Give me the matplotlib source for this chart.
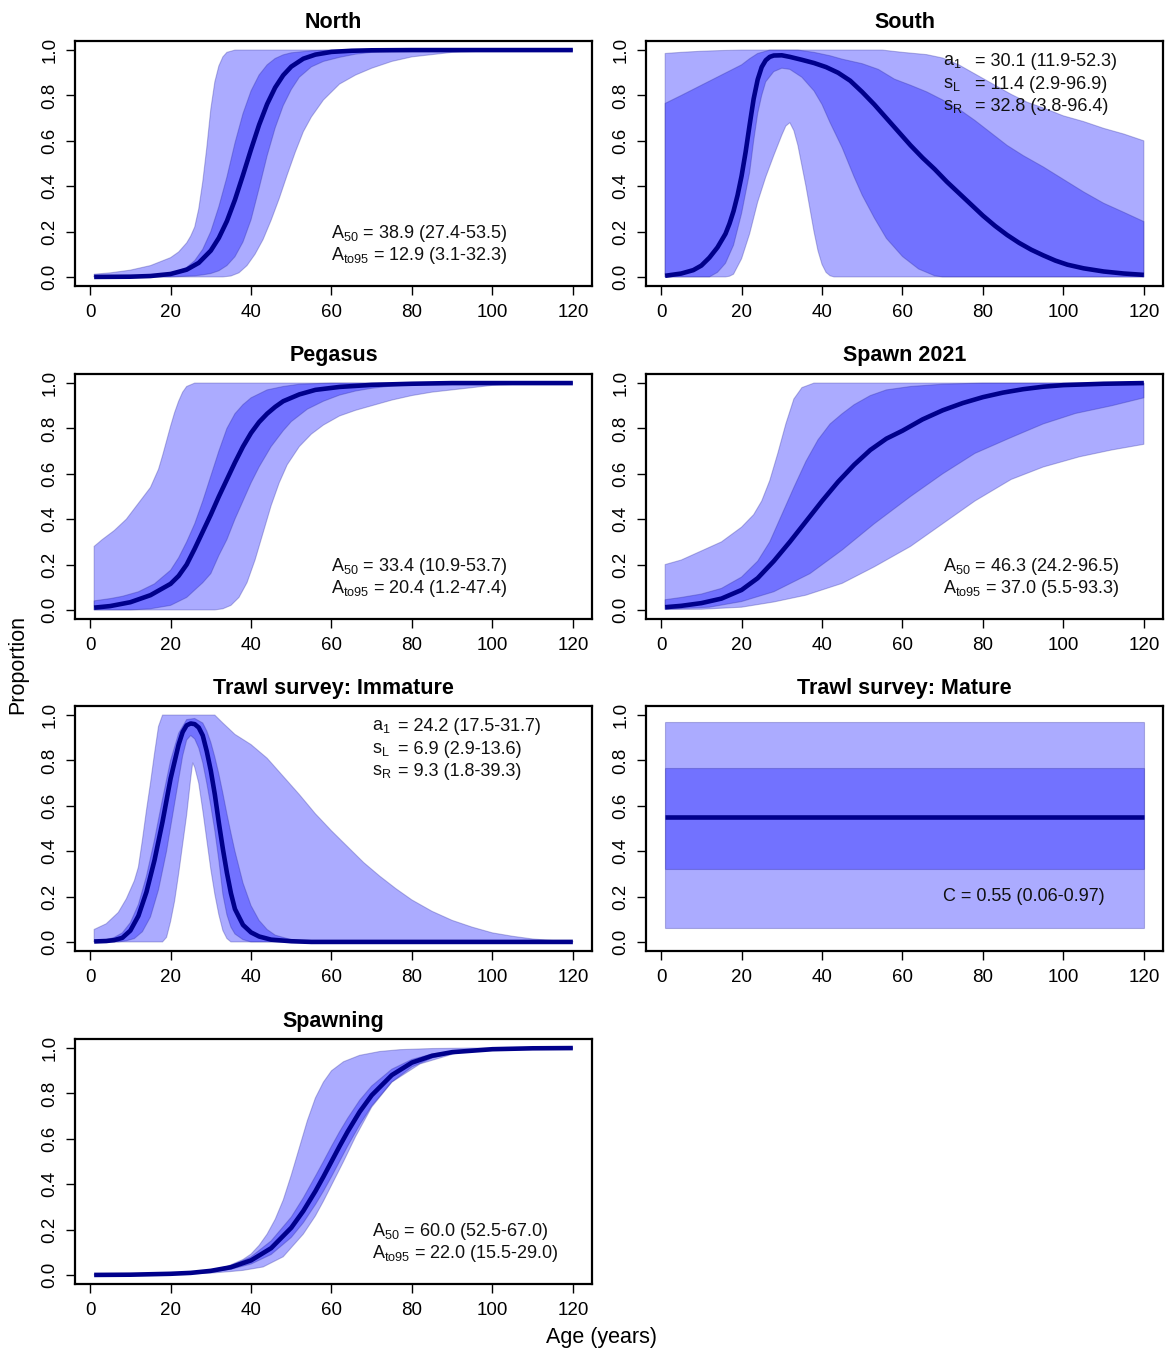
import numpy as np
import matplotlib.pyplot as plt

plt.rcParams['font.family'] = ['Liberation Sans', 'DejaVu Sans']
plt.rcParams['mathtext.default'] = 'regular'

# curves as (age, proportion) pairs
north_med = [(1, 0.0), (10, 0.001), (15, 0.004), (20, 0.013), (24, 0.032), (27, 0.062), (30, 0.116), (32, 0.172),
             (34, 0.246), (36, 0.34), (38, 0.449), (40, 0.562), (42, 0.67), (44, 0.762), (46, 0.835), (48, 0.889),
             (50, 0.927), (53, 0.962), (56, 0.98), (60, 0.992), (65, 0.997), (70, 0.999), (80, 1.0), (120, 1.0)]
north_in_hi = [(1, 0.003), (10, 0.004), (15, 0.006), (20, 0.014), (24, 0.042), (26, 0.072), (28, 0.122), (30, 0.2),
               (32, 0.31), (34, 0.44), (36, 0.59), (38, 0.72), (40, 0.82), (42, 0.89), (44, 0.935), (46, 0.963),
               (48, 0.979), (50, 0.988), (55, 0.997), (60, 1.0), (120, 1.0)]
north_in_lo = [(1, 0.0), (20, 0.0), (26, 0.005), (28, 0.009), (30, 0.015), (32, 0.027), (34, 0.05), (36, 0.089),
               (38, 0.154), (40, 0.252), (42, 0.39), (44, 0.534), (46, 0.657), (48, 0.755), (50, 0.826), (52, 0.88),
               (55, 0.926), (58, 0.95), (62, 0.968), (66, 0.982), (70, 0.99), (80, 0.998), (90, 1.0), (120, 1.0)]
north_out_hi = [(1, 0.012), (5, 0.018), (10, 0.03), (15, 0.05), (20, 0.085), (22, 0.11), (24, 0.15), (25, 0.18),
                (26, 0.22), (27, 0.3), (28, 0.42), (29, 0.57), (30, 0.74), (31, 0.86), (32, 0.93), (33, 0.97),
                (34, 0.99), (36, 1.0), (120, 1.0)]
north_out_lo = [(1, 0.0), (33, 0.0), (35, 0.004), (37, 0.018), (39, 0.05), (41, 0.1), (43, 0.165), (45, 0.25),
                (47, 0.345), (49, 0.45), (51, 0.55), (53, 0.64), (55, 0.705), (58, 0.78), (62, 0.85), (66, 0.89),
                (70, 0.92), (75, 0.95), (80, 0.97), (90, 0.99), (100, 0.997), (110, 1.0), (120, 1.0)]

south_med = [(1, 0.005), (5, 0.015), (8, 0.03), (10, 0.05), (12, 0.085), (14, 0.13), (16, 0.19), (17, 0.235),
             (18, 0.29), (19, 0.36), (20, 0.445), (21, 0.55), (22, 0.67), (23, 0.785), (24, 0.87), (25, 0.925),
             (26, 0.955), (27, 0.97), (28, 0.976), (30, 0.977), (32, 0.97), (35, 0.957), (38, 0.943), (41, 0.925),
             (44, 0.9), (47, 0.865), (50, 0.815), (53, 0.76), (56, 0.7), (59, 0.64), (62, 0.58), (65, 0.525),
             (68, 0.475), (71, 0.42), (74, 0.37), (77, 0.32), (80, 0.27), (83, 0.225), (86, 0.185), (89, 0.15),
             (92, 0.12), (95, 0.095), (98, 0.072), (101, 0.054), (105, 0.038), (110, 0.024), (115, 0.015),
             (120, 0.009)]
south_in_hi = [(1, 0.765), (5, 0.8), (10, 0.845), (15, 0.89), (20, 0.935), (22, 0.962), (24, 0.985), (27, 1.0),
               (34, 1.0), (38, 0.99), (42, 0.975), (45, 0.96), (50, 0.94), (54, 0.915), (58, 0.872), (62, 0.845),
               (66, 0.816), (70, 0.78), (74, 0.74), (78, 0.69), (82, 0.635), (86, 0.58), (90, 0.535), (95, 0.485),
               (100, 0.43), (105, 0.375), (110, 0.325), (115, 0.285), (120, 0.244)]
south_in_lo = [(1, 0.0), (12, 0.0), (14, 0.02), (16, 0.06), (18, 0.14), (20, 0.28), (22, 0.46), (23, 0.6),
               (24, 0.72), (25, 0.8), (26, 0.86), (28, 0.905), (30, 0.92), (32, 0.915), (35, 0.88), (38, 0.82),
               (40, 0.76), (42, 0.68), (45, 0.57), (48, 0.44), (50, 0.36), (53, 0.26), (56, 0.17), (60, 0.09),
               (64, 0.035), (68, 0.005), (70, 0.0), (120, 0.0)]
south_out_hi = [(1, 0.985), (5, 0.99), (10, 0.995), (15, 0.998), (20, 1.0), (55, 1.0), (60, 0.99), (66, 0.98),
                (70, 0.965), (74, 0.935), (78, 0.895), (83, 0.845), (87, 0.805), (91, 0.77), (95, 0.745),
                (100, 0.71), (105, 0.685), (110, 0.655), (115, 0.63), (120, 0.6)]
south_out_lo = [(1, 0.0), (16, 0.0), (17, 0.003), (18, 0.012), (20, 0.08), (22, 0.19), (24, 0.33), (26, 0.44),
                (28, 0.535), (30, 0.625), (31, 0.665), (32, 0.68), (33, 0.645), (34, 0.58), (35, 0.49), (36, 0.4),
                (37, 0.3), (38, 0.2), (39, 0.115), (40, 0.055), (41, 0.02), (42, 0.005), (43, 0.0), (120, 0.0)]

peg_med = [(1, 0.01), (5, 0.017), (10, 0.034), (15, 0.065), (18, 0.095), (20, 0.115), (22, 0.15), (24, 0.2),
           (26, 0.27), (28, 0.345), (30, 0.42), (32, 0.5), (34, 0.575), (36, 0.65), (38, 0.72), (40, 0.78),
           (42, 0.828), (44, 0.865), (46, 0.895), (48, 0.92), (52, 0.95), (56, 0.97), (62, 0.983), (70, 0.992),
           (80, 0.997), (90, 1.0), (120, 1.0)]
peg_in_hi = [(1, 0.04), (5, 0.05), (8, 0.06), (12, 0.08), (16, 0.115), (20, 0.175), (22, 0.23), (24, 0.3),
             (26, 0.38), (28, 0.48), (30, 0.59), (32, 0.7), (34, 0.8), (36, 0.865), (38, 0.905), (40, 0.935),
             (44, 0.97), (48, 0.985), (52, 0.995), (60, 1.0), (120, 1.0)]
peg_in_lo = [(1, 0.0), (10, 0.0), (15, 0.005), (20, 0.02), (24, 0.055), (28, 0.12), (30, 0.16), (32, 0.24),
             (34, 0.31), (36, 0.4), (38, 0.48), (40, 0.56), (42, 0.63), (45, 0.72), (48, 0.79), (50, 0.83),
             (54, 0.885), (58, 0.92), (62, 0.947), (66, 0.965), (70, 0.977), (75, 0.987), (80, 0.993), (90, 1.0),
             (120, 1.0)]
peg_out_hi = [(1, 0.28), (3, 0.31), (6, 0.35), (9, 0.4), (12, 0.47), (15, 0.54), (17, 0.62), (18, 0.68),
              (19, 0.745), (20, 0.81), (21, 0.87), (22, 0.92), (23, 0.96), (24, 0.985), (26, 1.0), (120, 1.0)]
peg_out_lo = [(1, 0.0), (31, 0.0), (33, 0.005), (35, 0.02), (37, 0.055), (39, 0.12), (41, 0.22), (43, 0.34),
              (45, 0.46), (47, 0.56), (49, 0.64), (52, 0.72), (55, 0.775), (58, 0.815), (62, 0.855), (66, 0.88),
              (70, 0.9), (75, 0.925), (80, 0.945), (85, 0.96), (90, 0.97), (95, 0.98), (100, 0.99), (110, 0.998),
              (120, 1.0)]

sp21_med = [(1, 0.012), (5, 0.018), (10, 0.03), (15, 0.05), (20, 0.088), (24, 0.14), (28, 0.215), (32, 0.3),
            (36, 0.39), (40, 0.48), (44, 0.565), (48, 0.64), (52, 0.705), (56, 0.755), (60, 0.79), (65, 0.84),
            (70, 0.88), (75, 0.912), (80, 0.938), (85, 0.958), (90, 0.973), (95, 0.984), (100, 0.991),
            (110, 0.997), (120, 1.0)]
sp21_in_hi = [(1, 0.045), (5, 0.055), (10, 0.07), (15, 0.095), (20, 0.145), (24, 0.215), (27, 0.3), (30, 0.42),
              (33, 0.54), (36, 0.655), (39, 0.75), (42, 0.82), (45, 0.865), (48, 0.905), (52, 0.945), (56, 0.97),
              (62, 0.985), (70, 0.995), (80, 1.0), (120, 1.0)]
sp21_in_lo = [(1, 0.003), (12, 0.012), (20, 0.037), (28, 0.08), (37, 0.16), (45, 0.264), (53, 0.38), (62, 0.5),
              (70, 0.6), (78, 0.69), (87, 0.76), (95, 0.82), (103, 0.866), (112, 0.9), (120, 0.935)]
sp21_out_hi = [(1, 0.2), (5, 0.22), (10, 0.26), (15, 0.3), (20, 0.365), (23, 0.42), (25, 0.48), (27, 0.57),
               (29, 0.69), (31, 0.82), (33, 0.93), (35, 0.98), (38, 1.0), (120, 1.0)]
sp21_out_lo = [(1, 0.002), (10, 0.003), (20, 0.012), (28, 0.035), (36, 0.065), (45, 0.117), (53, 0.19),
               (62, 0.28), (70, 0.38), (78, 0.48), (87, 0.575), (95, 0.63), (104, 0.675), (112, 0.705), (120, 0.73)]

imm_med = [(1, 0.002), (4, 0.004), (6, 0.008), (8, 0.018), (10, 0.05), (12, 0.115), (14, 0.22), (16, 0.36),
           (18, 0.53), (20, 0.72), (22, 0.87), (23, 0.925), (24, 0.955), (25, 0.963), (26, 0.96), (27, 0.945),
           (28, 0.91), (29, 0.84), (30, 0.755), (31, 0.65), (32, 0.525), (33, 0.41), (34, 0.305), (35, 0.215),
           (36, 0.145), (38, 0.075), (40, 0.042), (42, 0.024), (45, 0.01), (50, 0.003), (55, 0.0), (120, 0.0)]
imm_in_hi = [(1, 0.005), (4, 0.01), (6, 0.02), (8, 0.04), (10, 0.085), (12, 0.165), (14, 0.29), (16, 0.45),
             (18, 0.63), (20, 0.8), (22, 0.92), (24, 0.98), (26, 0.985), (28, 0.965), (29, 0.93), (30, 0.88),
             (31, 0.815), (32, 0.74), (33, 0.655), (34, 0.565), (35, 0.48), (36, 0.4), (38, 0.26), (40, 0.16),
             (42, 0.095), (44, 0.055), (46, 0.03), (50, 0.01), (55, 0.002), (60, 0.0), (120, 0.0)]
imm_in_lo = [(1, 0.0), (7, 0.0), (9, 0.005), (11, 0.015), (13, 0.045), (15, 0.11), (17, 0.23), (19, 0.4),
             (21, 0.61), (23, 0.82), (24, 0.89), (25, 0.91), (26, 0.895), (27, 0.855), (28, 0.79), (29, 0.7),
             (30, 0.6), (31, 0.49), (32, 0.36), (33, 0.21), (34, 0.12), (35, 0.065), (36, 0.035), (38, 0.01),
             (40, 0.0), (120, 0.0)]
imm_out_hi = [(1, 0.055), (4, 0.08), (7, 0.13), (9, 0.19), (11, 0.27), (12, 0.33), (13, 0.45), (14, 0.58),
              (15, 0.7), (16, 0.83), (17, 0.95), (18, 1.0), (31, 1.0), (33, 0.965), (36, 0.915), (40, 0.87),
              (44, 0.81), (48, 0.73), (52, 0.65), (56, 0.565), (60, 0.49), (64, 0.42), (68, 0.35), (72, 0.29),
              (76, 0.235), (80, 0.185), (85, 0.135), (90, 0.095), (95, 0.065), (100, 0.04), (105, 0.025),
              (110, 0.013), (115, 0.006), (120, 0.003)]
imm_out_lo = [(1, 0.0), (18, 0.0), (19, 0.02), (20, 0.09), (21, 0.18), (22, 0.3), (23, 0.43), (24, 0.56),
              (25, 0.72), (25.5, 0.79), (26, 0.77), (27, 0.7), (28, 0.58), (29, 0.45), (30, 0.32), (31, 0.21),
              (32, 0.12), (33, 0.05), (34, 0.015), (35, 0.0), (120, 0.0)]

mat_med = [(1, 0.55), (120, 0.55)]
mat_in_hi = [(1, 0.765), (120, 0.765)]
mat_in_lo = [(1, 0.322), (120, 0.322)]
mat_out_hi = [(1, 0.97), (120, 0.97)]
mat_out_lo = [(1, 0.06), (120, 0.06)]

spawn_med = [(1, 0.0), (10, 0.001), (20, 0.005), (25, 0.009), (30, 0.018), (35, 0.034), (40, 0.064), (45, 0.118),
             (50, 0.208), (53, 0.282), (56, 0.369), (58, 0.433), (60, 0.5), (62, 0.567), (64, 0.631), (67, 0.719),
             (70, 0.792), (75, 0.881), (80, 0.936), (85, 0.966), (90, 0.982), (100, 0.995), (110, 0.999), (120, 1.0)]
spawn_in_hi = [(1, 0.0), (20, 0.003), (30, 0.02), (35, 0.04), (40, 0.08), (45, 0.15), (50, 0.255), (53, 0.34),
               (56, 0.435), (58, 0.5), (60, 0.567), (62, 0.631), (64, 0.69), (67, 0.77), (70, 0.833), (75, 0.907),
               (80, 0.95), (85, 0.974), (90, 0.986), (100, 0.996), (110, 0.999), (120, 1.0)]
spawn_in_lo = [(1, 0.0), (20, 0.002), (30, 0.012), (35, 0.025), (40, 0.048), (45, 0.09), (50, 0.165), (53, 0.23),
               (56, 0.31), (58, 0.369), (60, 0.433), (62, 0.5), (64, 0.567), (67, 0.661), (70, 0.745), (75, 0.85),
               (80, 0.917), (85, 0.956), (90, 0.977), (100, 0.994), (110, 0.998), (120, 1.0)]
spawn_out_hi = [(1, 0.001), (15, 0.003), (20, 0.006), (25, 0.011), (30, 0.022), (34, 0.037), (38, 0.068),
                (40, 0.092), (42, 0.13), (44, 0.18), (46, 0.245), (48, 0.33), (50, 0.44), (52, 0.56), (54, 0.68),
                (56, 0.78), (58, 0.85), (60, 0.9), (63, 0.94), (67, 0.968), (72, 0.985), (77, 0.993),
                (85, 0.998), (95, 1.0), (120, 1.0)]
spawn_out_lo = [(1, 0.0), (20, 0.002), (30, 0.008), (35, 0.015), (38, 0.02), (43, 0.035), (48, 0.08), (53, 0.18),
                (56, 0.26), (58, 0.325), (60, 0.395), (63, 0.5), (66, 0.61), (70, 0.74), (75, 0.85), (82, 0.93),
                (91, 0.978), (100, 0.995), (110, 0.999), (120, 1.0)]

# parameter text for each panel
north_txt = [r'A$_{50}$ = 38.9 (27.4-53.5)', r'A$_{to95}$ = 12.9 (3.1-32.3)']
south_lab = [r'a$_1$', r's$_L$', r's$_R$']
south_val = ['= 30.1 (11.9-52.3)', '= 11.4 (2.9-96.9)', '= 32.8 (3.8-96.4)']
peg_txt = [r'A$_{50}$ = 33.4 (10.9-53.7)', r'A$_{to95}$ = 20.4 (1.2-47.4)']
sp21_txt = [r'A$_{50}$ = 46.3 (24.2-96.5)', r'A$_{to95}$ = 37.0 (5.5-93.3)']
imm_lab = [r'a$_1$', r's$_L$', r's$_R$']
imm_val = ['= 24.2 (17.5-31.7)', '= 6.9 (2.9-13.6)', '= 9.3 (1.8-39.3)']
mat_txt = ['C = 0.55 (0.06-0.97)']
spawn_txt = [r'A$_{50}$ = 60.0 (52.5-67.0)', r'A$_{to95}$ = 22.0 (15.5-29.0)']

W, H = 1167, 1354
fig = plt.figure(figsize=(W / 100, H / 100), dpi=100)

col_left = [75, 646]
row_bottom = [286, 619, 951, 1284]
box_w, box_h = 517, 245

band = (0, 0, 1, 0.33)
band_edge = (0.15, 0.15, 0.6, 0.3)
line_col = '#00008b'


def make_ax(col, row):
    ax = fig.add_axes([col_left[col] / W, 1 - row_bottom[row] / H, box_w / W, box_h / H])
    ax.set_xlim(-3.76, 124.76)
    ax.set_ylim(-0.04, 1.04)
    ax.set_xticks(range(0, 121, 20))
    ax.set_yticks([0, 0.2, 0.4, 0.6, 0.8, 1.0])
    ax.set_yticklabels(['0.0', '0.2', '0.4', '0.6', '0.8', '1.0'], rotation=90, va='center')
    ax.tick_params(direction='out', length=6.5, width=1.0, labelsize=13.5)
    ax.tick_params(axis='x', pad=6.5)
    ax.tick_params(axis='y', pad=5.5)
    for s in ax.spines.values():
        s.set_linewidth(1.6)
    return ax


def draw(ax, title, med, in_lo, in_hi, out_lo, out_hi):
    for lo, hi in [(out_lo, out_hi), (in_lo, in_hi)]:
        xs = [a for a, v in hi] + [a for a, v in lo[::-1]]
        ys = [v for a, v in hi] + [v for a, v in lo[::-1]]
        ax.fill(xs, ys, facecolor=band, edgecolor=band_edge, lw=0.8)
    ax.plot([a for a, v in med], [v for a, v in med], color=line_col, lw=3.3,
            solid_capstyle='butt', solid_joinstyle='round')
    ax.set_title(title, fontsize=15.5, fontweight='bold', pad=9)


def text_lines(ax, x, ys, lines):
    for y, t in zip(ys, lines):
        ax.text(x, y, t, fontsize=13, va='center', ha='left', color='#111111', zorder=5)


ax = make_ax(0, 0)
draw(ax, 'North', north_med, north_in_lo, north_in_hi, north_out_lo, north_out_hi)
text_lines(ax, 60, [0.19, 0.095], north_txt)

ax = make_ax(1, 0)
draw(ax, 'South', south_med, south_in_lo, south_in_hi, south_out_lo, south_out_hi)
text_lines(ax, 70, [0.95, 0.85, 0.75], south_lab)
text_lines(ax, 78, [0.95, 0.85, 0.75], south_val)

ax = make_ax(0, 1)
draw(ax, 'Pegasus', peg_med, peg_in_lo, peg_in_hi, peg_out_lo, peg_out_hi)
text_lines(ax, 60, [0.19, 0.095], peg_txt)

ax = make_ax(1, 1)
draw(ax, 'Spawn 2021', sp21_med, sp21_in_lo, sp21_in_hi, sp21_out_lo, sp21_out_hi)
text_lines(ax, 70, [0.19, 0.095], sp21_txt)

ax = make_ax(0, 2)
draw(ax, 'Trawl survey: Immature', imm_med, imm_in_lo, imm_in_hi, imm_out_lo, imm_out_hi)
text_lines(ax, 70, [0.95, 0.85, 0.75], imm_lab)
text_lines(ax, 76.5, [0.95, 0.85, 0.75], imm_val)

ax = make_ax(1, 2)
draw(ax, 'Trawl survey: Mature', mat_med, mat_in_lo, mat_in_hi, mat_out_lo, mat_out_hi)
text_lines(ax, 70, [0.2], mat_txt)

ax = make_ax(0, 3)
draw(ax, 'Spawning', spawn_med, spawn_in_lo, spawn_in_hi, spawn_out_lo, spawn_out_hi)
text_lines(ax, 70, [0.19, 0.095], spawn_txt)

fig.text(18 / W, 1 - 664 / H, 'Proportion', rotation=90, ha='center', va='center', fontsize=15.5)
fig.text(601 / W, 1 - 1337 / H, 'Age (years)', ha='center', va='center', fontsize=15.5)

fig.savefig('out.png', dpi=100)
